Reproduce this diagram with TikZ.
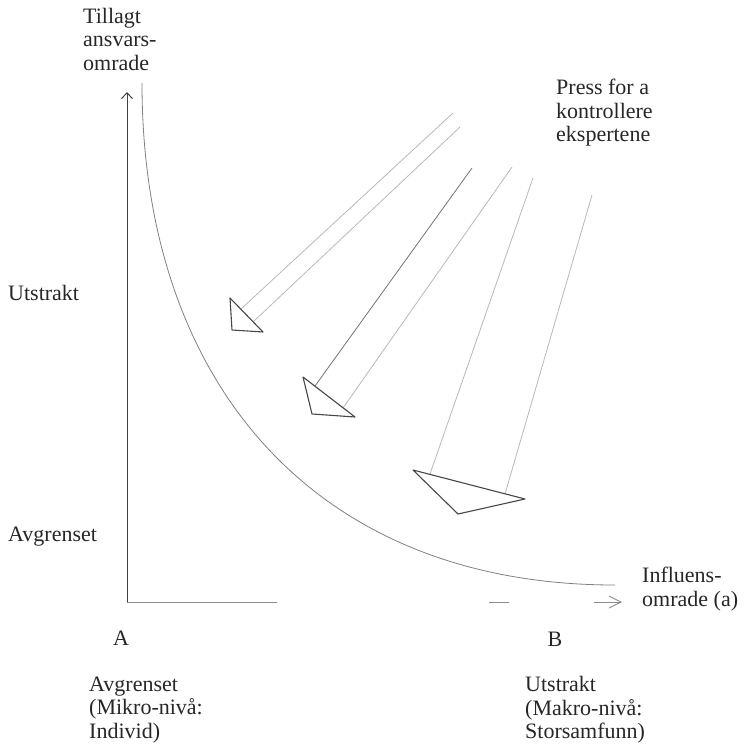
\documentclass[tikz,border=0pt]{standalone}
\usepackage{fontspec}
\setmainfont{Liberation Serif}
\usetikzlibrary{arrows.meta}
\begin{document}
\begin{tikzpicture}[x=1pt,y=-1pt,
  lbl/.style={anchor=west,align=left,inner sep=0pt,
    font=\fontsize{22}{23.5}\selectfont,text=black!85},
  yaxis/.style={draw=black!75,line width=1pt,
    -{Straight Barb[length=6pt,width=11pt]}},
  xaxis/.style={draw=black!45,line width=0.8pt,
    dash pattern=on 150pt off 212pt on 20pt off 85pt on 60pt,
    -{Straight Barb[length=12pt,width=12pt,line width=0.9pt]}},
  curvestyle/.style={draw=black!50,line width=0.8pt},
  headtri/.style={draw=black!72,line width=1.1pt,line join=round},
  shaftfaint/.style={draw=black!28,line width=0.8pt},
  shaftdark/.style={draw=black!55,line width=0.8pt}]
\useasboundingbox (0,0) rectangle (744,749);

% labels
\node[lbl] (ylab) at (83,39) {Tillagt\\ansvars-\\omrade};
\node[lbl] (press) at (556,113) {Press for a\\kontrollere\\ekspertene};
\node[lbl] (utl) at (8,293) {Utstrakt};
\node[lbl] (avl) at (8,537) {Avgrenset};
\node[lbl] (xlab) at (642,589) {Influens-\\omrade (a)};
\node[lbl,anchor=center] (A) at (121,638) {A};
\node[lbl,anchor=center] (B) at (555,639) {B};
\node[lbl] (mikro) at (89,710) {Avgrenset\\(Mikro-nivå:\\Individ)};
\node[lbl] (makro) at (525,710) {Utstrakt\\(Makro-nivå:\\Storsamfunn)};

% axes
\coordinate (O) at (127,602);
\coordinate (ytop) at (127,92);
\coordinate (xend) at (622,602);
\draw[yaxis] (O) -- (ytop);
\draw[xaxis] (O) -- (xend);

% curve
\coordinate (c0) at (142,83);
\coordinate (c1) at (615,585);
\draw[curvestyle] (c0) .. controls (142,383) and (315,585) .. (c1);

% arrow 1
\coordinate (t1a) at (230,298);
\coordinate (t1b) at (232,330);
\coordinate (t1c) at (263,332);
\coordinate (s1a) at (241,309);
\coordinate (e1a) at (453,113);
\coordinate (s1b) at (253,322);
\coordinate (e1b) at (460,127);
\draw[shaftfaint] (s1a) -- (e1a);
\draw[shaftfaint] (s1b) -- (e1b);
\draw[headtri] (t1a) -- (t1b) -- (t1c) -- cycle;

% arrow 2
\coordinate (t2a) at (303,377);
\coordinate (t2b) at (312,414);
\coordinate (t2c) at (355,417);
\coordinate (s2a) at (315,386);
\coordinate (e2a) at (472,168);
\coordinate (s2b) at (343,408);
\coordinate (e2b) at (512,167);
\draw[shaftdark] (s2a) -- (e2a);
\draw[shaftfaint] (s2b) -- (e2b);
\draw[headtri] (t2a) -- (t2b) -- (t2c) -- cycle;

% arrow 3
\coordinate (t3a) at (413,470);
\coordinate (t3b) at (458,514);
\coordinate (t3c) at (525,499);
\coordinate (s3a) at (430,474);
\coordinate (e3a) at (533,178);
\coordinate (s3b) at (505,494);
\coordinate (e3b) at (592,195);
\draw[shaftfaint] (s3a) -- (e3a);
\draw[shaftfaint] (s3b) -- (e3b);
\draw[headtri] (t3a) -- (t3b) -- (t3c) -- cycle;
\end{tikzpicture}
\end{document}
